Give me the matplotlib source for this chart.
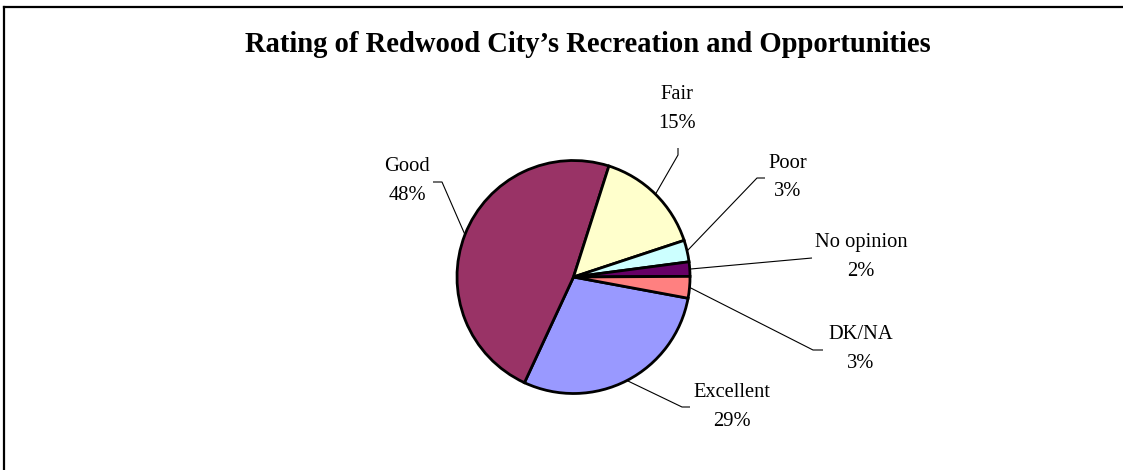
import numpy as np
import matplotlib
matplotlib.use("Agg")
import matplotlib.pyplot as plt
from matplotlib.lines import Line2D

# ---- data ----
categories = ["Excellent", "Good", "Fair", "Poor", "No opinion", "DK/NA"]
values = [29, 48, 15, 3, 2, 3]
colors = ["#9999FF", "#993366", "#FFFFCC", "#CCFFFF", "#660066", "#FF8080"]
title = "Rating of Redwood City\u2019s Recreation and Opportunities"

# ---- layout (pixel coordinates, y measured from top) ----
W, H = 1123, 470
cx, cy, R = 573.5, 277, 116.5
# label block centers and leader stubs (label side point, bend point)
label_pos = {
    "Excellent": (732, 407),
    "Good": (407, 181),
    "Fair": (677, 109),
    "Poor": (788, 177.5),
    "No opinion": (861, 257.5),
    "DK/NA": (861, 349),
}
leader_stub = {
    "Excellent": [(690, 407), (682, 407)],
    "Good": [(433, 182), (442, 182)],
    "Fair": [(678, 148), (678, 155)],
    "Poor": [(765, 178), (757, 178)],
    "No opinion": [(812, 258)],
    "DK/NA": [(823, 350), (813, 350)],
}

plt.rcParams['font.family'] = ['Liberation Serif', 'DejaVu Serif']

fig = plt.figure(figsize=(W / 100, H / 100), dpi=100)
ax = fig.add_axes([0, 0, 1, 1])

def fy(y):
    return H - y

wedges, _ = ax.pie(values, colors=colors, startangle=-10.5, counterclock=False,
                   center=(cx, fy(cy)), radius=R, frame=True,
                   wedgeprops=dict(edgecolor="black", linewidth=2.0))
ax.set_xlim(0, W)
ax.set_ylim(0, H)
ax.set_aspect('equal')
ax.axis('off')

for w, cat, val in zip(wedges, categories, values):
    mid = np.deg2rad((w.theta1 + w.theta2) / 2)
    ex = cx + R * np.cos(mid)
    ey = fy(cy) + R * np.sin(mid)
    pts = [(x, fy(y)) for x, y in leader_stub[cat]] + [(ex, ey)]
    xs, ys = zip(*pts)
    ax.plot(xs, ys, color="black", linewidth=0.8, solid_capstyle="butt")
    lx, ly = label_pos[cat]
    ax.text(lx, fy(ly - 14.5), cat, ha="center", va="center", fontsize=14.8)
    ax.text(lx, fy(ly + 14.5), f"{val}%", ha="center", va="center", fontsize=14.8)

ax.text(588, fy(44), title, ha="center", va="center", fontsize=20.6,
        fontweight="bold")

# chart frame (left and top edges visible)
fig.add_artist(Line2D([4 / W, 1], [1 - 7 / H, 1 - 7 / H], color="black",
                      linewidth=1.6, transform=fig.transFigure))
fig.add_artist(Line2D([4 / W, 4 / W], [0, 1 - 7 / H], color="black",
                      linewidth=1.6, transform=fig.transFigure))

fig.savefig("out.png", dpi=100)
